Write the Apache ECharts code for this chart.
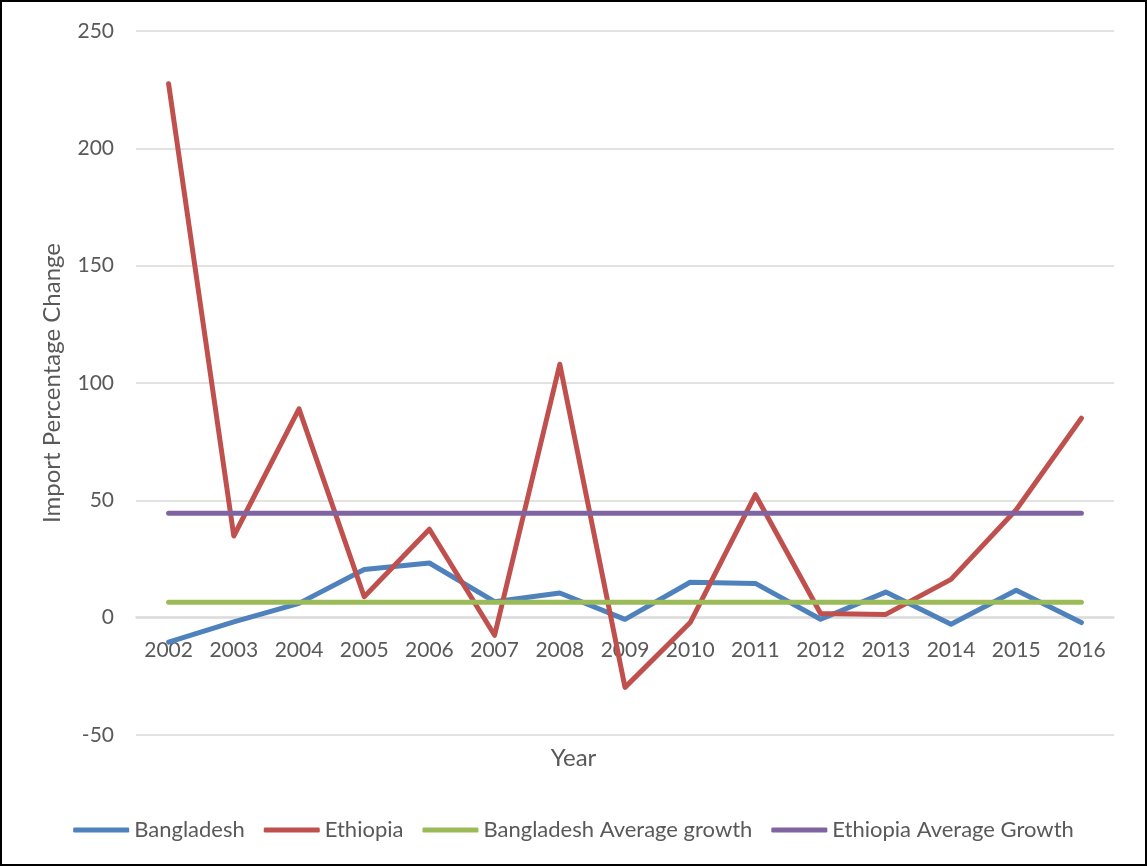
<!DOCTYPE html>
<html>
<head>
<meta charset="utf-8">
<script src="https://cdn.jsdelivr.net/npm/echarts@6/dist/echarts.min.js"></script>
<style>
  html, body { margin: 0; padding: 0; background: #fff; }
  #chart { width: 1147px; height: 866px; box-sizing: border-box; border: 2px solid #000; }
</style>
</head>
<body>
<div id="chart"></div>
<script>
// 数据
const years = ['2002', '2003', '2004', '2005', '2006', '2007', '2008', '2009', '2010', '2011', '2012', '2013', '2014', '2015', '2016']
const bangladesh = [-10.4, -1.8, 6.1, 20.5, 23.3, 6.8, 10.5, -0.7, 15.1, 14.6, -0.7, 10.9, -2.8, 11.7, -2.1]
const ethiopia = [227.5, 34.8, 89, 8.9, 37.7, -7.5, 108, -29.7, -2.1, 52.4, 1.8, 1.4, 16.3, 46, 85]
const bangladeshAvg = years.map(() => 6.6)
const ethiopiaAvg = years.map(() => 44.5)

const font = 'Lato, "Open Sans", sans-serif'
const textColor = '#595959'

const myChart = echarts.init(document.getElementById('chart'))

function lineSeries (name, data, color) {
  return {
    name: name,
    type: 'line',
    data: data,
    showSymbol: false,
    symbol: 'none',
    lineStyle: { color: color, width: 5, cap: 'round', join: 'round' },
    itemStyle: { color: color },
    animation: false
  }
}

// 绘图区 top 29, bottom 737 -> 0 在 619
const gridTop = 29
const gridBottom = 129
const plotH = 866 - gridTop - gridBottom
const zeroOffset = plotH * 50 / 300

myChart.setOption({
  title: {
    text: 'Year',
    left: 'center',
    top: 739,
    textStyle: { fontFamily: font, fontSize: 24, fontWeight: 'normal', color: textColor }
  },
  legend: {
    top: 812,
    left: 'center',
    icon: 'roundRect',
    itemWidth: 56,
    itemHeight: 5,
    itemGap: 19,
    textStyle: { fontFamily: font, fontSize: 22, color: textColor }
  },
  grid: { left: 134, right: 31, top: gridTop, bottom: gridBottom, containLabel: false },
  xAxis: {
    type: 'category',
    data: years,
    boundaryGap: true,
    offset: -zeroOffset,
    axisLine: { onZero: false, lineStyle: { color: '#d9d9d9', width: 1.5 } },
    axisTick: { show: false },
    axisLabel: { fontFamily: font, fontSize: 21, color: textColor, margin: 23 }
  },
  yAxis: {
    type: 'value',
    min: -50,
    max: 250,
    interval: 50,
    name: 'Import Percentage Change',
    nameLocation: 'middle',
    nameGap: 72,
    nameTextStyle: { fontFamily: font, fontSize: 24, color: textColor },
    axisLine: { show: false },
    axisTick: { show: false },
    axisLabel: { fontFamily: font, fontSize: 21, color: textColor, margin: 22 },
    splitLine: { lineStyle: { color: '#d9d9d9', width: 1.5 } }
  },
  series: [
    lineSeries('Bangladesh', bangladesh, '#4F81BD'),
    lineSeries('Ethiopia', ethiopia, '#C0504D'),
    lineSeries('Bangladesh Average growth', bangladeshAvg, '#9BBB59'),
    lineSeries('Ethiopia Average Growth', ethiopiaAvg, '#8064A2')
  ]
})
</script>
</body>
</html>
